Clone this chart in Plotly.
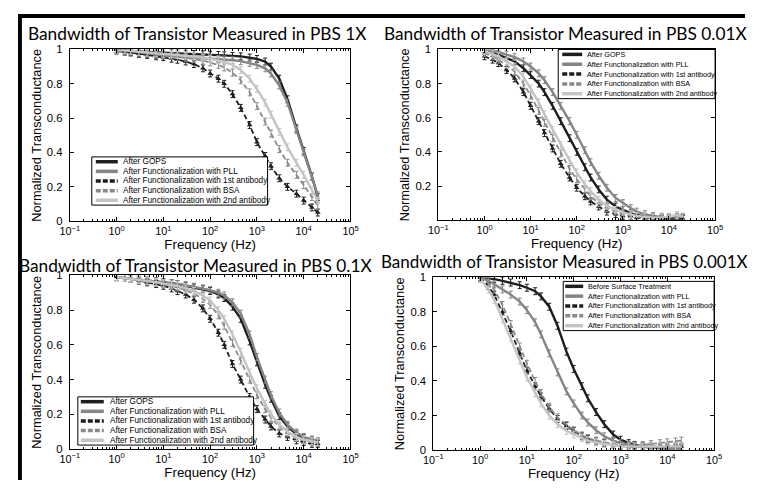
import plotly.graph_objects as go

W, H = 761, 494          # target picture size
OFF = 8                  # body margin of the page
FW, FH = W - 2 * OFF, H - 2 * OFF

# ---------------- data ----------------
freq = [1, 1.5, 2, 3, 4.5, 7, 10, 15, 20, 30, 45, 70, 100, 150, 200, 300, 450,
        700, 1000, 1500, 2000, 3000, 4500, 7000, 10000, 15000, 20000]

names_std = ["After GOPS", "After Functionalization with PLL",
             "After Functionalization with 1st antibody",
             "After Functionalization with BSA",
             "After Functionalization with 2nd antibody"]
names_001 = ["Before Surface Treatment", "After Functionalization with PLL",
             "After Functionalization with 1st antibody",
             "After Functionalization with BSA",
             "After Functionalization with 2nd antibody"]

titles = ["Bandwidth of Transistor Measured in PBS 1X",
          "Bandwidth of Transistor Measured in PBS 0.01X",
          "Bandwidth of Transistor Measured in PBS 0.1X",
          "Bandwidth of Transistor Measured in PBS 0.001X"]

# PBS 1X
pbs1_gops = [1.0, 0.995, 0.99, 0.988, 0.986, 0.984, 0.982, 0.98, 0.978, 0.976, 0.974, 0.972, 0.97, 0.968,
             0.966, 0.963, 0.96, 0.953, 0.945, 0.93, 0.9, 0.83, 0.71, 0.54, 0.41, 0.26, 0.14]
pbs1_pll = [0.99, 0.985, 0.98, 0.976, 0.972, 0.968, 0.965, 0.962, 0.96, 0.957, 0.954, 0.951, 0.948, 0.945,
            0.942, 0.937, 0.932, 0.922, 0.91, 0.89, 0.86, 0.79, 0.69, 0.53, 0.4, 0.26, 0.15]
pbs1_ab1 = [1.0, 0.99, 0.985, 0.975, 0.968, 0.96, 0.955, 0.946, 0.94, 0.93, 0.915, 0.89, 0.86, 0.83,
            0.8, 0.74, 0.66, 0.56, 0.46, 0.38, 0.32, 0.25, 0.2, 0.16, 0.12, 0.08, 0.05]
pbs1_bsa = [1.0, 0.993, 0.988, 0.982, 0.977, 0.972, 0.967, 0.962, 0.957, 0.951, 0.944, 0.935, 0.925, 0.91,
            0.895, 0.865, 0.82, 0.75, 0.67, 0.58, 0.51, 0.42, 0.34, 0.27, 0.21, 0.14, 0.09]
pbs1_ab2 = [1.0, 0.995, 0.99, 0.986, 0.982, 0.978, 0.975, 0.971, 0.968, 0.964, 0.959, 0.953, 0.947, 0.938,
            0.928, 0.91, 0.88, 0.83, 0.77, 0.69, 0.62, 0.52, 0.43, 0.34, 0.27, 0.18, 0.12]

# PBS 0.01X
pbs001_gops = [0.99, 0.98, 0.97, 0.95, 0.93, 0.89, 0.85, 0.8, 0.75, 0.67, 0.58, 0.48, 0.4, 0.31,
               0.25, 0.18, 0.12, 0.08, 0.06, 0.04, 0.03, 0.02, 0.015, 0.01, 0.01, 0.01, 0.01]
pbs001_pll = [1.0, 0.99, 0.985, 0.97, 0.955, 0.93, 0.9, 0.86, 0.82, 0.75, 0.67, 0.58, 0.5, 0.41,
              0.34, 0.26, 0.19, 0.13, 0.1, 0.07, 0.05, 0.035, 0.025, 0.02, 0.015, 0.02, 0.01]
pbs001_ab1 = [0.96, 0.94, 0.92, 0.88, 0.83, 0.75, 0.67, 0.58, 0.51, 0.42, 0.33, 0.25, 0.19, 0.14,
              0.11, 0.08, 0.05, 0.035, 0.025, 0.02, 0.015, 0.01, 0.01, 0.01, 0.01, 0.01, 0.01]
pbs001_bsa = [0.98, 0.96, 0.94, 0.91, 0.87, 0.8, 0.73, 0.64, 0.57, 0.48, 0.39, 0.3, 0.24, 0.18,
              0.14, 0.1, 0.07, 0.05, 0.035, 0.025, 0.02, 0.015, 0.01, 0.01, 0.015, 0.02, 0.02]
pbs001_ab2 = [0.99, 0.975, 0.96, 0.93, 0.9, 0.84, 0.77, 0.69, 0.62, 0.53, 0.44, 0.35, 0.28, 0.21,
              0.17, 0.12, 0.085, 0.06, 0.045, 0.035, 0.025, 0.02, 0.015, 0.015, 0.02, 0.03, 0.02]

# PBS 0.1X
pbs01_gops = [0.99, 0.985, 0.98, 0.975, 0.97, 0.965, 0.96, 0.955, 0.95, 0.94, 0.93, 0.92, 0.91, 0.89,
              0.87, 0.82, 0.75, 0.62, 0.5, 0.37, 0.29, 0.19, 0.13, 0.085, 0.065, 0.05, 0.04]
pbs01_pll = [0.99, 0.985, 0.98, 0.975, 0.97, 0.965, 0.96, 0.955, 0.95, 0.943, 0.935, 0.925, 0.915, 0.9,
             0.885, 0.845, 0.78, 0.66, 0.53, 0.4, 0.31, 0.21, 0.14, 0.095, 0.07, 0.055, 0.045]
pbs01_ab1 = [0.99, 0.985, 0.98, 0.97, 0.96, 0.95, 0.94, 0.925, 0.91, 0.89, 0.86, 0.81, 0.75, 0.67,
             0.6, 0.49, 0.4, 0.3, 0.23, 0.17, 0.13, 0.09, 0.07, 0.05, 0.04, 0.03, 0.03]
pbs01_bsa = [0.99, 0.985, 0.98, 0.973, 0.966, 0.958, 0.95, 0.94, 0.93, 0.915, 0.895, 0.865, 0.83, 0.77,
             0.71, 0.61, 0.51, 0.4, 0.31, 0.23, 0.18, 0.13, 0.09, 0.065, 0.05, 0.04, 0.035]
pbs01_ab2 = [0.99, 0.985, 0.98, 0.974, 0.968, 0.961, 0.954, 0.946, 0.938, 0.925, 0.91, 0.885, 0.855, 0.8,
             0.75, 0.66, 0.56, 0.44, 0.35, 0.26, 0.2, 0.14, 0.1, 0.07, 0.055, 0.045, 0.04]

# PBS 0.001X
pbs0001_bst = [1.0, 0.995, 0.99, 0.98, 0.97, 0.955, 0.94, 0.92, 0.89, 0.83, 0.72, 0.57, 0.47, 0.37,
               0.3, 0.22, 0.15, 0.09, 0.06, 0.04, 0.03, 0.02, 0.015, 0.01, 0.01, 0.01, 0.01]
pbs0001_pll = [1.0, 0.98, 0.96, 0.93, 0.9, 0.86, 0.81, 0.74, 0.67, 0.56, 0.45, 0.34, 0.27, 0.2,
               0.16, 0.115, 0.08, 0.055, 0.04, 0.03, 0.025, 0.02, 0.015, 0.015, 0.01, 0.01, 0.01]
pbs0001_ab1 = [1.0, 0.95, 0.9, 0.8, 0.69, 0.56, 0.46, 0.37, 0.31, 0.24, 0.18, 0.14, 0.11, 0.08,
               0.065, 0.05, 0.04, 0.03, 0.025, 0.02, 0.02, 0.02, 0.02, 0.02, 0.02, 0.02, 0.02]
pbs0001_bsa = [1.0, 0.97, 0.93, 0.84, 0.73, 0.6, 0.5, 0.4, 0.33, 0.25, 0.19, 0.145, 0.115, 0.085,
               0.07, 0.055, 0.045, 0.035, 0.03, 0.025, 0.025, 0.03, 0.035, 0.04, 0.045, 0.05, 0.055]
pbs0001_ab2 = [0.99, 0.93, 0.87, 0.76, 0.65, 0.52, 0.42, 0.33, 0.27, 0.2, 0.15, 0.11, 0.09, 0.07,
               0.055, 0.045, 0.035, 0.03, 0.02, 0.02, 0.02, 0.02, 0.02, 0.02, 0.02, 0.02, 0.02]

panel_series = [
    [pbs1_gops, pbs1_pll, pbs1_ab1, pbs1_bsa, pbs1_ab2],
    [pbs001_gops, pbs001_pll, pbs001_ab1, pbs001_bsa, pbs001_ab2],
    [pbs01_gops, pbs01_pll, pbs01_ab1, pbs01_bsa, pbs01_ab2],
    [pbs0001_bst, pbs0001_pll, pbs0001_ab1, pbs0001_bsa, pbs0001_ab2],
]
panel_names = [names_std, names_std, names_std, names_001]

xtick_vals = [0.1, 1, 10, 100, 1000, 10000, 100000]
xtick_text = ["10<sup>−1</sup>", "10<sup>0</sup>", "10<sup>1</sup>", "10<sup>2</sup>",
              "10<sup>3</sup>", "10<sup>4</sup>", "10<sup>5</sup>"]
ytick_vals = [0, 0.2, 0.4, 0.6, 0.8, 1]

# ---------------- styles ----------------
styles = [
    dict(color="#1e1e1e", width=2.4, dash="solid", marker=None),
    dict(color="#858585", width=2.4, dash="solid", marker=None),
    dict(color="#1e1e1e", width=1.8, dash="5px,3px", marker="triangle-up"),
    dict(color="#8a8a8a", width=1.8, dash="5px,3px", marker=None),
    dict(color="#c4c4c4", width=2.4, dash="solid", marker=None),
]

# positions measured on the reference picture: (left, right, top, bottom)
boxes = [(69, 350, 50, 221), (438, 715, 50, 220), (69, 350, 275, 448), (433, 714, 277, 449)]
title_pos = [(197, 34), (565, 34), (195, 265), (564, 261)]
title_size = [17.3, 17.3, 17.3, 17.0]
legend_boxes = [(91, 267, 157, 205), (558, 715, 50, 99), (77, 253, 396, 444), (563, 714, 281, 330)]
legend_font = [8.2, 7.25, 8.2, 7.25]
legend_line = [(4, 26), (4, 24), (3, 26), (2, 20)]
legend_text_dx = [29, 27, 30, 23]

# the photographed picture shows the figure slightly reduced and shifted;
# these constants map picture pixels to figure-paper fractions
SX, OX = 0.977, 9.3
SY, OY = 0.971, 6.9


def px_x(p):
    return ((p - OX) / SX - OFF) / FW


def px_y(p):
    return 1 - ((p - OY) / SY - OFF) / FH


def clip01(v):
    return min(1.0, max(0.0, v))


fig = go.Figure()
layout = dict(width=FW, height=FH, margin=dict(l=0, r=0, t=0, b=0),
              paper_bgcolor="white", plot_bgcolor="white", showlegend=False)
shapes = []
annotations = []
FONT = "Liberation Sans, Arial"

for i in range(4):
    ax = "" if i == 0 else str(i + 1)
    for s, (vals, name) in enumerate(zip(panel_series[i], panel_names[i])):
        st = styles[s]
        mode = "lines+markers" if st["marker"] else "lines"
        fig.add_trace(go.Scatter(
            x=freq, y=vals, mode=mode, name=name,
            line=dict(color=st["color"], width=st["width"], dash=st["dash"]),
            marker=dict(symbol=st["marker"] or "circle", size=5, color=st["color"]),
            error_y=dict(type="constant", value=0.02, thickness=1, width=2, color=st["color"]),
            xaxis="x" + ax, yaxis="y" + ax))
    l, r, t, b = boxes[i]
    layout["xaxis" + ax] = dict(
        type="log", range=[-1, 5], domain=[clip01(px_x(l)), clip01(px_x(r))], anchor="y" + ax,
        tickvals=xtick_vals, ticktext=xtick_text, ticks="inside", ticklen=4,
        tickcolor="black", showline=True, linecolor="black", linewidth=1, mirror="ticks",
        showgrid=False, zeroline=False,
        minor=dict(ticks="inside", ticklen=2, tickcolor="black", dtick="D1", showgrid=False),
        tickfont=dict(family=FONT, size=10.8, color="black"),
        title=dict(text="Frequency (Hz)", standoff=3,
                   font=dict(family=FONT, size=13.3, color="black")))
    ytext = ["0", "0.2", "0.4", "0.6", "0.8", "1"]
    if i == 1:
        ytext[0] = ""
    layout["yaxis" + ax] = dict(
        range=[0, 1], domain=[clip01(px_y(b)), clip01(px_y(t))], anchor="x" + ax,
        tickvals=ytick_vals, ticktext=ytext, ticks="inside", ticklen=4,
        tickcolor="black", showline=True, linecolor="black", linewidth=1, mirror="ticks",
        showgrid=False, zeroline=False, ticklabelstandoff=4,
        tickfont=dict(family=FONT, size=11.3, color="black"),
        title=dict(text="Normalized Transconductance", standoff=2,
                   font=dict(family=FONT, size=12.8, color="black")))
    tx, ty = title_pos[i]
    annotations.append(dict(text=titles[i], x=px_x(tx), y=px_y(ty), xref="paper", yref="paper",
                            xanchor="center", yanchor="middle", showarrow=False,
                            font=dict(family="Lato", size=title_size[i], color="black")))
    lx0, lx1, ly0, ly1 = legend_boxes[i]
    shapes.append(dict(type="rect", xref="paper", yref="paper", x0=px_x(lx0), x1=px_x(lx1),
                       y0=px_y(ly1), y1=px_y(ly0), fillcolor="white",
                       line=dict(color="black", width=1), layer="above"))
    row_h = (ly1 - ly0) / 5.0
    ls, le = legend_line[i]
    for s, name in enumerate(panel_names[i]):
        st = styles[s]
        yy = ly0 + row_h * (s + 0.5)
        shapes.append(dict(type="line", xref="paper", yref="paper",
                           x0=px_x(lx0 + ls), x1=px_x(lx0 + le), y0=px_y(yy), y1=px_y(yy),
                           line=dict(color=st["color"], width=3.5,
                                     dash="5px,2px" if "px" in st["dash"] else "solid"),
                           layer="above"))
        annotations.append(dict(text=name, x=px_x(lx0 + legend_text_dx[i]), y=px_y(yy),
                                xref="paper", yref="paper",
                                xanchor="left", yanchor="middle", showarrow=False,
                                font=dict(family=FONT, size=legend_font[i], color="black")))

# outer black frame (top and left), kept at the figure edge
shapes.append(dict(type="rect", xref="paper", yref="paper", x0=0, x1=1.0,
                   y0=1 - 4 / FH, y1=1.0, fillcolor="black", line=dict(width=0), layer="above"))
shapes.append(dict(type="rect", xref="paper", yref="paper", x0=0, x1=4 / FW,
                   y0=0, y1=1.0, fillcolor="black", line=dict(width=0), layer="above"))

layout["shapes"] = shapes
layout["annotations"] = annotations
fig.update_layout(**layout)

fig.write_html("out.html", config={"displayModeBar": False})
